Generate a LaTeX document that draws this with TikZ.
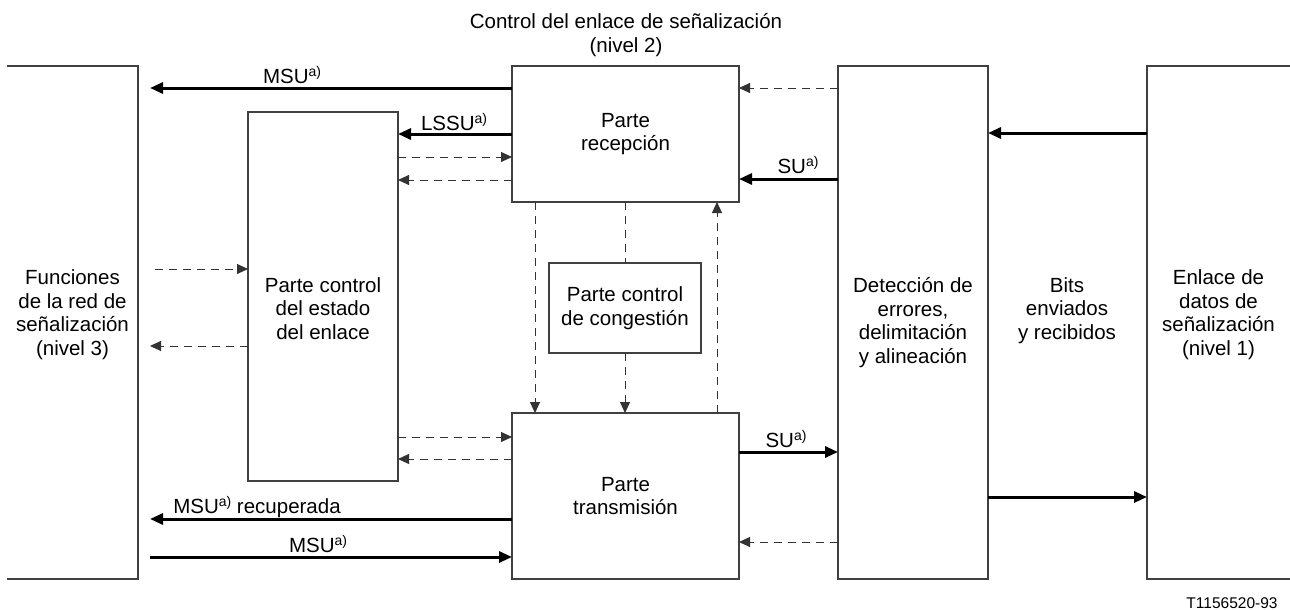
\documentclass[tikz,border=0pt]{standalone}
\usepackage{fontspec}
\setmainfont{Liberation Sans}
\usetikzlibrary{arrows.meta,calc}
\newcommand\supa{\raisebox{7pt}{\fontsize{14}{14}\selectfont a)}}
\begin{document}
\begin{tikzpicture}[x=1pt,y=-1pt,
  every node/.style={font=\fontsize{20.5}{23.5}\selectfont, inner sep=0pt, outer sep=0pt},
  boxn/.style={draw=black!75, line width=1.2pt, align=center},
  openbox/.style={},
  txt/.style={align=center, anchor=north},
  lbl/.style={anchor=base},
  bline/.style={draw=black!75, line width=1.2pt},
  thk/.style={line width=3pt, -{Triangle[length=13pt,width=11pt]}},
  dsh/.style={line width=1pt, draw=black!80, dash pattern=on 8pt off 6pt, -{Triangle[length=11pt,width=10pt]}},
  dshn/.style={line width=1pt, draw=black!80, dash pattern=on 8pt off 6pt},
]
\useasboundingbox (0,0) rectangle (1290,610);

% boxes
\node[openbox, minimum width=131pt, minimum height=513pt] (lf) at (72.5,322.5) {};
\draw[bline] (lf.north west) -- (lf.north east) -- (lf.south east) -- (lf.south west);
\node[txt] (lft) at (72.5,270) {Funciones\\de la red de\\señalización\\(nivel 3)};

\node[boxn, minimum width=150pt, minimum height=369pt] (lsc) at (323,296.5) {};
\node[txt] (lsct) at (323,277.5) {Parte control\\del estado\\del enlace};

\node[boxn, minimum width=227pt, minimum height=136pt] (rec) at (625.5,134) {Parte\\recepción};
\node[boxn, minimum width=152pt, minimum height=90pt] (cong) at (625,308) {Parte control\\de congestión};
\node[boxn, minimum width=227pt, minimum height=166pt] (tra) at (625.5,496) {Parte\\transmisión};

\node[boxn, minimum width=150pt, minimum height=513pt] (det) at (913,322.5) {};
\node[txt] (dett) at (913,277.5) {Detección de\\errores,\\delimitación\\y alineación};

\node[txt] (bits) at (1067,277.5) {Bits\\enviados\\y recibidos};

\node[openbox, minimum width=143pt, minimum height=513pt] (enl) at (1218.5,322.5) {};
\draw[bline] (enl.north east) -- (enl.north west) -- (enl.south west) -- (enl.south east);
\node[txt] (enlt) at (1218.5,270) {Enlace de\\datos de\\señalización\\(nivel 1)};

\node[txt] (title) at (626,13.5) {Control del enlace de señalización\\(nivel 2)};
\node[lbl] (ref) at (1232,608) {\fontsize{15.5}{18}\selectfont T1156520-93};

% horizontal connectors, upper part
\draw[thk] ($(rec.north west)+(0,22)$) -- ($(lf.north east)+(12,22)$);
\draw[thk] ($(rec.north west)+(0,68)$) -- ($(lsc.north east)+(0,22)$);
\draw[dsh] ($(lsc.north east)+(0,45)$) -- ($(rec.north west)+(0,91)$);
\draw[dsh] ($(rec.north west)+(0,114)$) -- ($(lsc.north east)+(0,68)$);
\draw[dsh] ($(det.north west)+(0,22)$) -- ($(rec.north east)+(0,22)$);
\draw[thk] ($(det.north west)+(0,113)$) -- ($(rec.north east)+(0,113)$);
\draw[thk] ($(enl.north west)+(0,67)$) -- ($(det.north east)+(0,67)$);

% left dashed
\draw[dsh] ($(lf.north east)+(17,203)$) -- ($(lsc.north west)+(0,157)$);
\draw[dsh] ($(lsc.north west)+(0,234)$) -- ($(lf.north east)+(12,280)$);

% lower part
\draw[dsh] ($(lsc.south east)+(0,-44)$) -- ($(tra.north west)+(0,24)$);
\draw[dsh] ($(tra.north west)+(0,46)$) -- ($(lsc.south east)+(0,-22)$);
\draw[thk] ($(tra.north east)+(0,39)$) -- ($(det.south west)+(0,-127)$);
\draw[thk] ($(det.south east)+(0,-82)$) -- ($(enl.south west)+(0,-82)$);
\draw[dsh] ($(det.south west)+(0,-37)$) -- ($(tra.south east)+(0,-37)$);
\draw[thk] ($(tra.south west)+(0,-60)$) -- ($(lf.south east)+(12,-60)$);
\draw[thk] ($(lf.south east)+(12,-22)$) -- ($(tra.south west)+(0,-22)$);

% vertical dashed
\draw[dsh] ($(rec.south west)+(23,0)$) -- ($(tra.north west)+(23,0)$);
\draw[dshn] (cong.north |- rec.south) -- (cong.north);
\draw[dsh] (cong.south) -- (cong.south |- tra.north);
\draw[dsh] ($(tra.north east)+(-22,0)$) -- ($(rec.south east)+(-22,0)$);

% labels
\node[lbl] (lmsu1) at (292,84) {MSU\supa};
\node[lbl] (llssu) at (454,130) {LSSU\supa};
\node[lbl] (lsu1) at (798,173) {SU\supa};
\node[lbl] (lsu2) at (786,447) {SU\supa};
\node[lbl] (lmsur) at (257,513) {MSU\supa{} recuperada};
\node[lbl] (lmsu2) at (318,552) {MSU\supa};
\end{tikzpicture}
\end{document}
